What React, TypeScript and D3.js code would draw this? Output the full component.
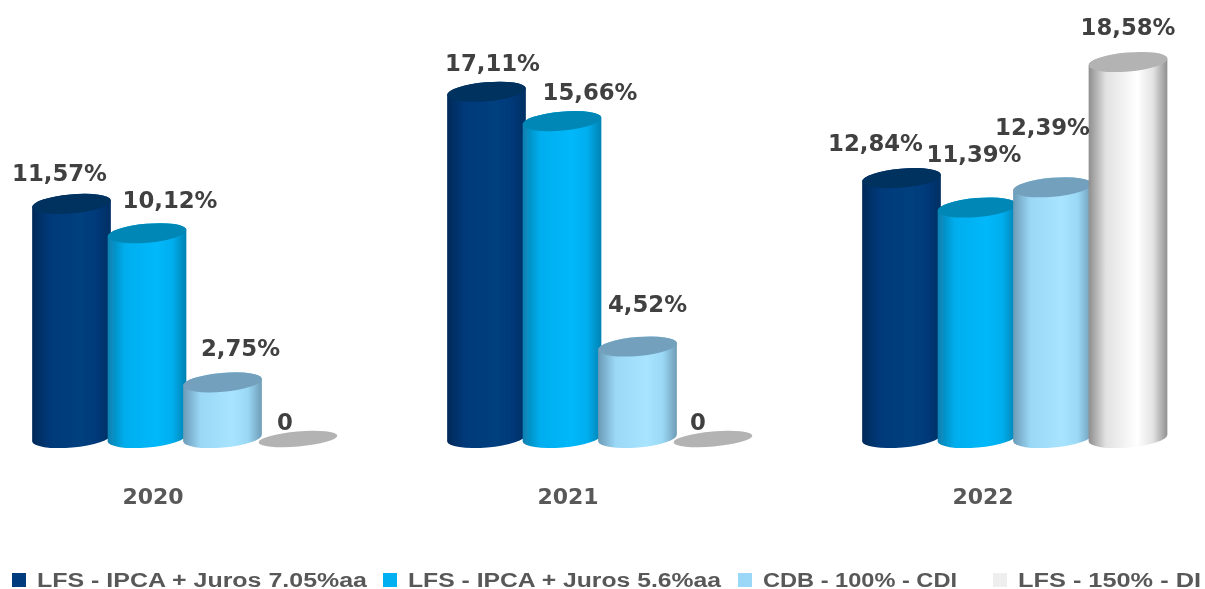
import React from "react";
import * as d3 from "d3";

const years = ["2020", "2021", "2022"];
const seriesNames = ["LFS - IPCA + Juros 7.05%aa", "LFS - IPCA + Juros 5.6%aa", "CDB - 100% - CDI", "LFS - 150% - DI"];
const ipca705 = [11.57, 17.11, 12.84];
const ipca56 = [10.12, 15.66, 11.39];
const cdb = [2.75, 4.52, 12.39];
const lfs150 = [0, 0, 18.58];
const allValues = [ipca705, ipca56, cdb, lfs150];
const labels = [
  ["11,57%", "17,11%", "12,84%"],
  ["10,12%", "15,66%", "11,39%"],
  ["2,75%", "4,52%", "12,39%"],
  ["0", "0", "18,58%"],
];

const legendSwatch = ["#003b7d", "#00b0f0", "#9bd7f7", "#eeeeee"];
const topColor = ["#00305f", "#0087b5", "#73a1bd", "#b3b3b3"];
const stops = [
  ["#002a58", "#00397a", "#00407f", "#002f63"],
  ["#0a7fae", "#00aeee", "#00b8fa", "#0082b2"],
  ["#6b9ab6", "#9ad8f6", "#a8e4ff", "#6f9cb6"],
  ["#8e8e8e", "#e2e2e2", "#ffffff", "#8f8f8f"],
];
const legendX = [37, 408, 763, 1018];
const legendW = [330, 313, 194, 183];
const labelDx = [[-12, 23, 18, -13], [6, 28, 10, -15], [-26, -3, -10, 0]];
const labelDy = [[-23, -25, -26, -8], [-21, -21, -34.5, -8], [-27, -45.5, -52, -27]];

const font = "'DejaVu Sans', sans-serif";
const legendFont = "'Liberation Sans', sans-serif";
const tilt = -5;
const rx = 39.5;
const ry = 9.5;

export default function App() {
  const x0 = d3.scaleBand<string>().domain(years).range([-22.75, 1222.25]);
  const groupW = 302;
  const x1 = d3.scaleBand<number>().domain([0, 1, 2, 3]).range([0, groupW]);
  const y = d3.scaleLinear().domain([0, 18.58]).range([438, 62]);
  const rad = (tilt * Math.PI) / 180;
  const dx = rx * Math.cos(rad);
  const dy = rx * Math.sin(rad);
  const groupLeft = (yr: string) => (x0(yr) as number) + (x0.bandwidth() - groupW) / 2;

  return (
    <svg width={1205} height={589} style={{ position: "absolute", left: 0, top: 0, background: "#fff" }}>
      <defs>
        {stops.map((s, i) => (
          <linearGradient key={i} id={`g${i}`} x1="0" x2="1" y1="0" y2="0">
            <stop offset="0" stopColor={s[0]} />
            <stop offset="0.22" stopColor={s[1]} />
            <stop offset="0.62" stopColor={s[2]} />
            <stop offset="0.82" stopColor={s[1]} />
            <stop offset="1" stopColor={s[3]} />
          </linearGradient>
        ))}
        <filter id="soft" x="-5%" y="-5%" width="110%" height="110%">
          <feGaussianBlur stdDeviation="0.45" />
        </filter>
      </defs>
      <g filter="url(#soft)">
        {years.map((yr, yi) =>
          allValues.map((vals, si) => {
            const cx = groupLeft(yr) + (x1(si) as number) + x1.bandwidth() / 2;
            const top = y(vals[yi]);
            const base = y(0);
            if (vals[yi] === 0) {
              return <ellipse key={`${yi}-${si}`} cx={cx} cy={base + 1} rx={rx} ry={ry - 2} transform={`rotate(${tilt} ${cx} ${base + 1})`} fill={topColor[si]} />;
            }
            const d = `M${cx - dx},${top - dy} L${cx - dx},${base - dy} A${rx},${ry} ${tilt} 0 0 ${cx + dx},${base + dy} L${cx + dx},${top + dy} A${rx},${ry} ${tilt} 0 0 ${cx - dx},${top - dy} Z`;
            return (
              <g key={`${yi}-${si}`}>
                <path d={d} fill={`url(#g${si})`} />
                <ellipse cx={cx} cy={top} rx={rx} ry={ry} transform={`rotate(${tilt} ${cx} ${top})`} fill={topColor[si]} />
              </g>
            );
          })
        )}
        {years.map((yr, yi) =>
          allValues.map((vals, si) => {
            const cx = groupLeft(yr) + (x1(si) as number) + x1.bandwidth() / 2;
            return (
              <text key={`l${yi}-${si}`} x={cx + labelDx[yi][si]} y={y(vals[yi]) + labelDy[yi][si]} textAnchor="middle" fontFamily={font} fontWeight={700} fontSize={22.8} fill="#404040">
                {labels[si][yi]}
              </text>
            );
          })
        )}
        {years.map((yr) => (
          <text key={yr} x={groupLeft(yr) + groupW / 2 - 31.75} y={504} textAnchor="middle" fontFamily={font} fontWeight={700} fontSize={22} fill="#595959">
            {yr}
          </text>
        ))}
        {seriesNames.map((name, i) => (
          <g key={name}>
            <rect x={legendX[i] - 25} y={573} width={14} height={14} fill={legendSwatch[i]} />
            <text x={legendX[i]} y={586.5} fontFamily={legendFont} fontWeight={700} fontSize={20} fill="#595959" textLength={legendW[i]} lengthAdjust="spacingAndGlyphs">
              {name}
            </text>
          </g>
        ))}
      </g>
    </svg>
  );
}
